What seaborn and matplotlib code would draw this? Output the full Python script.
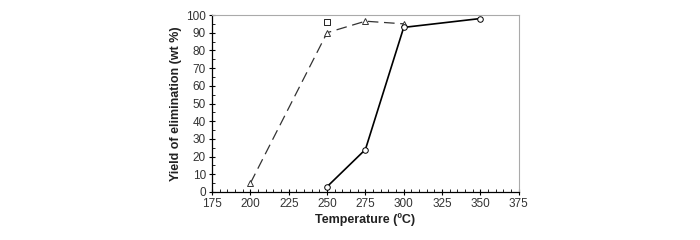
import matplotlib
matplotlib.use("Agg")
import matplotlib.pyplot as plt
import seaborn as sns
import pandas as pd
from matplotlib.ticker import MultipleLocator

# data
temp_tri = [200, 250, 275, 300]
yield_tri = [5, 90, 96.5, 95]
temp_sq = [250]
yield_sq = [96]
temp_circ = [250, 275, 300, 350]
yield_circ = [3, 24, 93, 98]

sns.set_style("white")
plt.rcParams['font.family'] = ['Liberation Sans', 'DejaVu Sans']

tri_df = pd.DataFrame({'T': temp_tri, 'Y': yield_tri})
sq_df = pd.DataFrame({'T': temp_sq, 'Y': yield_sq})
circ_df = pd.DataFrame({'T': temp_circ, 'Y': yield_circ})

fig = plt.figure(figsize=(7, 2.4), dpi=100)
ax = fig.add_axes([0.303, 0.2, 0.438, 0.7375])

sns.lineplot(data=tri_df, x='T', y='Y', ax=ax, color='#333333', lw=0.9,
             marker='^', markersize=4.5, markerfacecolor='white',
             markeredgecolor='#333333', markeredgewidth=0.7)
ax.lines[-1].set_dashes((8.5, 4.5))
sns.lineplot(data=circ_df, x='T', y='Y', ax=ax, color='black', lw=1.2,
             marker='o', markersize=4, markerfacecolor='white',
             markeredgecolor='black', markeredgewidth=0.7)
sns.scatterplot(data=sq_df, x='T', y='Y', ax=ax, marker='s', s=18,
                facecolor='white', edgecolor='#222222', linewidth=0.7, zorder=5)

ax.set_xlim(175, 375)
ax.set_ylim(0, 100)
ax.xaxis.set_major_locator(MultipleLocator(25))
ax.xaxis.set_minor_locator(MultipleLocator(5))
ax.yaxis.set_major_locator(MultipleLocator(10))
ax.yaxis.set_minor_locator(MultipleLocator(5))
ax.tick_params(which='major', direction='inout', length=5, width=0.8,
               labelsize=8.5, color='black', labelcolor='#333333', pad=2)
ax.tick_params(which='minor', direction='in', length=2.5, width=0.6, color='black')
ax.tick_params(axis='both', which='both', bottom=True, left=True, top=False, right=False)

for s in ['left', 'bottom']:
    ax.spines[s].set_color('black')
    ax.spines[s].set_linewidth(0.9)
for s in ['top', 'right']:
    ax.spines[s].set_color('#aaaaaa')
    ax.spines[s].set_linewidth(0.8)

ax.set_xlabel('Temperature (ºC)', fontsize=9, fontweight='bold', labelpad=2, color='#222222')
ax.set_ylabel('Yield of elimination (wt %)', fontsize=9, fontweight='bold', labelpad=3, color='#222222')
ax.legend_ = None

fig.savefig('out.png', dpi=100)
